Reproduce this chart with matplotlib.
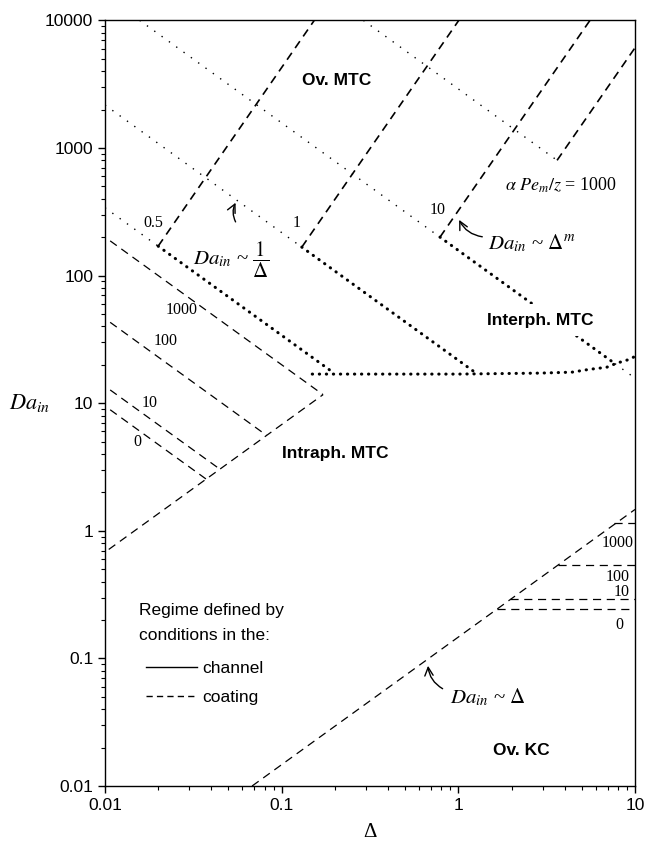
import numpy as np
import matplotlib
matplotlib.use('Agg')
import matplotlib.pyplot as plt
from matplotlib.lines import Line2D
from matplotlib.ticker import FixedLocator, FixedFormatter, NullFormatter

plt.rcParams['font.family'] = ['Liberation Sans', 'DejaVu Sans']
plt.rcParams['mathtext.fontset'] = 'stix'

x_ticks = [0.01, 0.1, 1, 10]
x_tick_labels = ['0.01', '0.1', '1', '10']
y_ticks = [0.01, 0.1, 1, 10, 100, 1000, 10000]
y_tick_labels = ['0.01', '0.1', '1', '10', '100', '1000', '10000']

# thin dotted lines (alpha*Pe_m/z = const), slope -1
thin_x = [[0.01, 0.02], [0.01, 0.13], [0.0157, 0.787], [0.29, 3.62], [7.7, 10]]
thin_y = [[340, 170], [2170, 167], [10000, 200], [10000, 800], [20.4, 15.7]]

# dashed lines with slope m (upper region), labelled by m
up_x = [[0.02, 0.153], [0.13, 1.006], [0.787, 5.56], [3.62, 10]]
up_y = [[170, 10000], [167, 10000], [200, 10000], [800, 6100]]
up_labels = ['0.5', '1', '10']
up_lab_x = [0.0187, 0.122, 0.767]
up_lab_y = [257, 257, 325]

# heavy dotted boundaries (channel regime)
thick_x = [[0.02, 0.188], [0.13, 1.26], [0.787, 7.7]]
thick_y = [[170, 18.1], [167, 17.2], [200, 20.4]]
curve_x = [0.149, 1.0, 2.9, 4.4, 5.5, 6.9, 7.9, 9.35, 10]
curve_y = [16.9, 16.9, 17.2, 17.5, 18.4, 19.1, 20.6, 22.1, 23.3]

# intraphase MTC boundaries in the coating
vee_x = [0.0105, 0.1715]
vee_y = [0.714, 11.66]
intra_x = [[0.0107, 0.1715], [0.0107, 0.0822], [0.0107, 0.0447], [0.0107, 0.0374]]
intra_y = [[187, 11.66], [43, 5.59], [12.7, 3.04], [8.88, 2.54]]
intra_labels = ['1000', '100', '10', '0']
intra_lab_x = [0.0273, 0.0221, 0.018, 0.0152]
intra_lab_y = [53.5, 30.6, 10.0, 4.95]

# overall kinetic control boundaries
kc_x = [0.068, 10]
kc_y = [0.01, 1.47]
kc_h_y = [1.15, 0.538, 0.29, 0.244]
kc_h_x0 = [7.6, 3.66, 1.97, 1.66]
kc_labels = ['1000', '100', '10', '0']
kc_lab_x = [8.0, 8.0, 8.4, 8.2]
kc_lab_y = [0.80, 0.434, 0.331, 0.182]

fig = plt.figure(figsize=(6.48, 8.47), dpi=100)
ax = fig.add_axes([0.162, 0.072, 0.818, 0.904])
ax.set_xscale('log')
ax.set_yscale('log')
ax.set_xlim(0.01, 10)
ax.set_ylim(0.01, 10000)

thin_style = dict(color='black', lw=1.0, ls=(0, (1.0, 5.5)))
thick_style = dict(color='black', lw=2.2, ls=(0, (0.1, 2.2)), dash_capstyle='round')
dash_style = dict(color='black', lw=0.9, ls=(0, (6.5, 4.5)))
up_style = dict(color='black', lw=1.2, ls=(0, (5, 3.5)))

for xs, ys in zip(thin_x, thin_y):
    ax.plot(xs, ys, **thin_style)
for xs, ys in zip(up_x, up_y):
    ax.plot(xs, ys, **up_style)
for xs, ys in zip(thick_x, thick_y):
    ax.plot(xs, ys, **thick_style)
ax.plot(curve_x, curve_y, **thick_style)

ax.plot(vee_x, vee_y, **dash_style)
for xs, ys in zip(intra_x, intra_y):
    ax.plot(xs, ys, **dash_style)
ax.plot(kc_x, kc_y, **dash_style)
for x0, yh in zip(kc_h_x0, kc_h_y):
    ax.plot([x0, 10], [yh, yh], **dash_style)

serif = dict(family='Liberation Serif', fontsize=11.5, ha='center', va='center')
for lab, x, y in zip(up_labels, up_lab_x, up_lab_y):
    ax.text(x, y, lab, **serif)
for lab, x, y in zip(intra_labels, intra_lab_x, intra_lab_y):
    ax.text(x, y, lab, **serif)
for lab, x, y in zip(kc_labels, kc_lab_x, kc_lab_y):
    ax.text(x, y, lab, **serif)

bold = dict(fontsize=12.5, fontweight='bold', ha='center', va='center')
ax.text(0.206, 3388, 'Ov. MTC', **bold)
ax.text(2.90, 44.7, 'Interph. MTC', bbox=dict(fc='white', ec='none', pad=6), **bold)
ax.text(0.20, 4.06, 'Intraph. MTC', **bold)
ax.text(2.26, 0.019, 'Ov. KC', **bold)

big = dict(family='Liberation Serif', fontsize=15, ha='left', va='center')
ax.text(0.0315, 132, r'$Da_{in}$ ~ $\dfrac{1}{\Delta}$', **big)
ax.text(1.47, 179, r'$Da_{in}$ ~ $\Delta^m$', **big)
ax.text(0.897, 0.049, r'$Da_{in}$ ~ $\Delta$', **big)
ax.text(1.837, 510, r'$\alpha\ Pe_m/z$ = 1000', family='Liberation Serif',
        fontsize=13, ha='left', va='center')

arrow = dict(arrowstyle='->', color='black', lw=1.0, mutation_scale=15)
ax.annotate('', xy=(0.0558, 389), xytext=(0.0558, 252),
            arrowprops=dict(connectionstyle='arc3,rad=-0.3', **arrow))
ax.annotate('', xy=(0.995, 286), xytext=(1.416, 200),
            arrowprops=dict(connectionstyle='arc3,rad=-0.3', **arrow))
ax.annotate('', xy=(0.672, 0.092), xytext=(0.841, 0.0565),
            arrowprops=dict(connectionstyle='arc3,rad=-0.3', **arrow))

# legend
ax.text(0.064, 0.239, 'Regime defined by\nconditions in the:', transform=ax.transAxes,
        fontsize=12.5, ha='left', va='top', linespacing=1.8)
handles = [Line2D([], [], color='black', lw=1.0),
           Line2D([], [], color='black', lw=1.0, ls=(0, (4.5, 3)))]
ax.legend(handles, ['channel', 'coating'], loc='upper left', bbox_to_anchor=(0.078, 0.163),
          frameon=False, fontsize=12.5, handlelength=2.9, handletextpad=0.3,
          labelspacing=0.8, borderpad=0, borderaxespad=0)

# ticks: decades labelled, minor ticks 2..9 inside the limits only
x_minor = [k * d for d in x_ticks[:-1] for k in range(2, 10)]
y_minor = [k * d for d in y_ticks[:-1] for k in range(2, 10)]
ax.xaxis.set_major_locator(FixedLocator(x_ticks))
ax.yaxis.set_major_locator(FixedLocator(y_ticks))
ax.xaxis.set_minor_locator(FixedLocator(x_minor))
ax.yaxis.set_minor_locator(FixedLocator(y_minor))
ax.xaxis.set_major_formatter(FixedFormatter(x_tick_labels))
ax.yaxis.set_major_formatter(FixedFormatter(y_tick_labels))
ax.xaxis.set_minor_formatter(NullFormatter())
ax.yaxis.set_minor_formatter(NullFormatter())
ax.tick_params(which='both', direction='out', top=False, right=False, labelsize=12.5)
ax.tick_params(which='major', length=5, width=1)
ax.tick_params(which='minor', length=3, width=0.8)
for side in ['top', 'bottom', 'left', 'right']:
    ax.spines[side].set_linewidth(1.0)

ax.set_xlabel('Δ', family='Liberation Serif', fontsize=15)
ax.xaxis.set_label_coords(0.5, -0.048)
ax.set_ylabel(r'$Da_{in}$', fontsize=16, rotation=0, va='center', ha='center')
ax.yaxis.set_label_coords(-0.143, 0.5)

fig.savefig('out.png', dpi=100)
